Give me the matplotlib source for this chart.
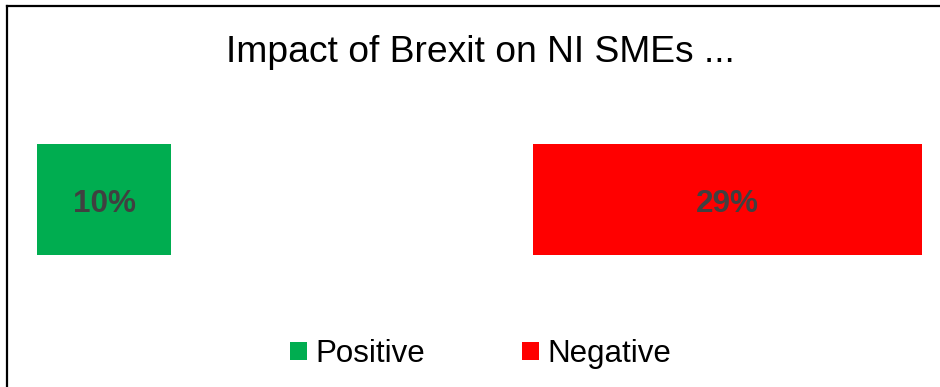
import matplotlib
matplotlib.use("Agg")
import matplotlib.pyplot as plt
from matplotlib.lines import Line2D
from matplotlib.patches import Patch
from matplotlib.transforms import blended_transform_factory

plt.rcParams['font.family'] = ['Liberation Sans', 'DejaVu Sans']

# Share of NI SMEs by expected Brexit impact (%)
series_names = ["Positive", "Neutral", "Negative"]
series_values = [10, 27, 29]
series_colors = ["#00AD50", "none", "#FF0000"]
shown_in_legend = ["Positive", "Negative"]
title = "Impact of Brexit on NI SMEs ..."

W, H = 940, 387
fig = plt.figure(figsize=(W / 100, H / 100), dpi=100)
fig.patch.set_facecolor("white")

# Plot area in pixel terms
x0, x1, y_top, y_bot = 37, 922, 144, 255
ax = fig.add_axes([x0 / W, 1 - y_bot / H, (x1 - x0) / W, (y_bot - y_top) / H])

# data x, figure y for the value labels
label_tf = blended_transform_factory(ax.transData, fig.transFigure)

left = 0
for name, val, col in zip(series_names, series_values, series_colors):
    ax.barh(0, val, left=left, height=1.0, color=col, edgecolor="none")
    if col != "none":
        ax.text(left + val / 2, 1 - 212 / H, f"{val}%", ha="center",
                va="baseline", transform=label_tf,
                fontsize=22.7, fontweight="bold", color="#404040")
    left += val

ax.set_xlim(0, sum(series_values))
ax.set_ylim(-0.5, 0.5)
ax.axis("off")

fig.text(480 / W, 1 - 62 / H, title, ha="center", va="baseline",
         fontsize=26.8, color="black")

handles = [Patch(facecolor=c, edgecolor="none")
           for n, c in zip(series_names, series_colors) if n in shown_in_legend]
fig.legend(handles, shown_in_legend, loc="center",
           bbox_to_anchor=(480.5 / W, 1 - 354 / H), ncol=2, frameon=False,
           fontsize=22.5, handlelength=0.55, handleheight=0.55,
           handletextpad=0.26, columnspacing=3.1, borderpad=0, borderaxespad=0)

# Frame edges along the top and left
fig.add_artist(Line2D([7.5 / W, 1], [1 - 5.5 / H, 1 - 5.5 / H],
                      transform=fig.transFigure, color="black", lw=1.6))
fig.add_artist(Line2D([7.5 / W, 7.5 / W], [0, 1 - 5.5 / H],
                      transform=fig.transFigure, color="black", lw=1.6))

fig.savefig("out.png", dpi=100, facecolor="white")
